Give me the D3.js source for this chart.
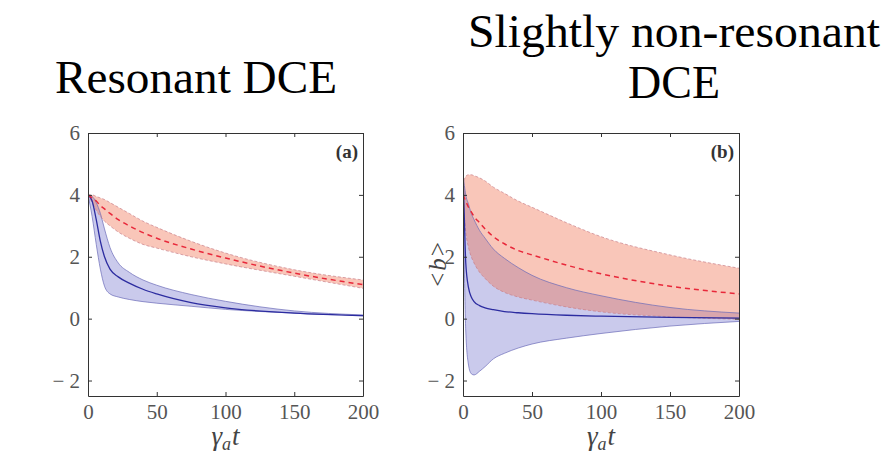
<!DOCTYPE html>
<html>
<head>
<meta charset="utf-8">
<script src="https://cdn.jsdelivr.net/npm/d3@7"></script>
<style>
  body { margin: 0; background: #fff; }
  svg { display: block; }
  svg text { font-family: "Liberation Serif", "DejaVu Serif", serif; }
</style>
</head>
<body>
<svg id="chart" width="896" height="454"></svg>
<script>
// panel (a): resonant DCE
const tA = [0, 3, 6, 9, 12, 16, 22, 30, 40, 50, 75, 100, 150, 200];
const aBlueMean = [4.0, 3.8, 3.2, 2.5, 2.0, 1.6, 1.35, 1.15, 0.95, 0.8, 0.52, 0.35, 0.18, 0.1];
const aBlueHigh = [4.0, 3.95, 3.75, 3.4, 2.9, 2.3, 1.8, 1.5, 1.25, 1.08, 0.78, 0.56, 0.25, 0.12];
const aBlueLow = [4.0, 3.3, 2.4, 1.6, 1.05, 0.8, 0.7, 0.62, 0.55, 0.5, 0.4, 0.3, 0.18, 0.09];
const aRedMean = [4.0, 3.9, 3.8, 3.65, 3.55, 3.4, 3.2, 3.0, 2.78, 2.6, 2.25, 1.96, 1.47, 1.1];
const aRedHigh = [4.0, 4.0, 3.95, 3.9, 3.85, 3.75, 3.6, 3.4, 3.15, 2.95, 2.5, 2.12, 1.58, 1.25];
const aRedLow = [4.0, 3.75, 3.5, 3.3, 3.15, 3.0, 2.8, 2.6, 2.4, 2.28, 2.0, 1.77, 1.37, 0.98];

// panel (b): slightly non-resonant DCE
const tB = [0, 1, 2, 4, 6, 8, 12, 16, 22, 30, 40, 50, 75, 100, 150, 200];
const bBlueMean = [4.7, 3.2, 1.8, 1.0, 0.7, 0.55, 0.42, 0.35, 0.29, 0.23, 0.19, 0.16, 0.11, 0.08, 0.04, 0.02];
const bBlueHigh = [4.7, 4.3, 4.0, 3.7, 3.4, 3.2, 2.85, 2.6, 2.25, 1.95, 1.65, 1.4, 1.0, 0.74, 0.36, 0.18];
const bBlueLow = [4.7, 1.6, -0.4, -1.5, -1.78, -1.82, -1.7, -1.55, -1.3, -1.12, -0.95, -0.82, -0.63, -0.48, -0.24, -0.09];
const bRedMean = [4.0, 3.9, 3.8, 3.6, 3.45, 3.3, 3.1, 2.9, 2.65, 2.42, 2.2, 2.06, 1.73, 1.45, 1.05, 0.8];
const bRedHigh = [4.3, 4.5, 4.6, 4.65, 4.65, 4.62, 4.55, 4.45, 4.25, 4.05, 3.8, 3.6, 3.1, 2.65, 2.06, 1.63];
const bRedLow = [3.9, 3.3, 2.8, 2.3, 2.0, 1.8, 1.5, 1.3, 1.05, 0.85, 0.7, 0.6, 0.38, 0.22, 0.06, -0.02];

const xTicks = [0, 50, 100, 150, 200];
const yTicks = [-2, 0, 2, 4, 6];
const xDomain = [0, 200];
const yDomain = [-2.5, 6];

const svg = d3.select("#chart");

const panels = [
  {
    id: "a", left: 88, right: 363, t: tA,
    blue: [aBlueLow, aBlueMean, aBlueHigh], red: [aRedLow, aRedMean, aRedHigh],
    ylabel: false
  },
  {
    id: "b", left: 463, right: 739, t: tB,
    blue: [bBlueLow, bBlueMean, bBlueHigh], red: [bRedLow, bRedMean, bRedHigh],
    ylabel: true
  }
];
const plotTop = 133, plotBottom = 396;

panels.forEach(p => {
  const x = d3.scaleLinear().domain(xDomain).range([p.left, p.right]);
  const y = d3.scaleLinear().domain(yDomain).range([plotBottom, plotTop]);
  const g = svg.append("g");

  g.append("clipPath").attr("id", "clip-" + p.id)
    .append("rect")
    .attr("x", p.left).attr("y", plotTop)
    .attr("width", p.right - p.left).attr("height", plotBottom - plotTop);

  const area = g.append("g").attr("clip-path", "url(#clip-" + p.id + ")");

  const band = (lo, hi) => d3.area()
    .x((d, i) => x(p.t[i]))
    .y0((d, i) => y(lo[i]))
    .y1((d, i) => y(hi[i]))
    .curve(d3.curveMonotoneX)(p.t);
  const line = vals => d3.line()
    .x((d, i) => x(p.t[i]))
    .y((d, i) => y(vals[i]))
    .curve(d3.curveMonotoneX)(p.t);

  // bands
  area.append("path").attr("d", band(p.blue[0], p.blue[2]))
    .attr("fill", "#5050c0").attr("fill-opacity", 0.3);
  area.append("path").attr("d", band(p.red[0], p.red[2]))
    .attr("fill", "#f07050").attr("fill-opacity", 0.4);

  // band edges
  [p.blue[0], p.blue[2]].forEach(v => {
    area.append("path").attr("d", line(v))
      .attr("fill", "none").attr("stroke", "#6a6ab8").attr("stroke-width", 0.7);
  });
  [p.red[0], p.red[2]].forEach(v => {
    area.append("path").attr("d", line(v))
      .attr("fill", "none").attr("stroke", "#c8808a").attr("stroke-width", 0.7)
      .attr("stroke-dasharray", "3,2");
  });

  // means
  area.append("path").attr("d", line(p.blue[1]))
    .attr("fill", "none").attr("stroke", "#2c2ca0").attr("stroke-width", 1.3);
  area.append("path").attr("d", line(p.red[1]))
    .attr("fill", "none").attr("stroke", "#e8283a").attr("stroke-width", 1.5)
    .attr("stroke-dasharray", "5,4");

  // axes, ticks pointing inward on all four sides
  const fmt = d => d < 0 ? "\u2212 " + Math.abs(d) : String(d);
  const axes = [
    [d3.axisBottom(x).tickValues(xTicks).tickFormat(d3.format("d")), "translate(0," + plotBottom + ")"],
    [d3.axisTop(x).tickValues(xTicks).tickFormat(""), "translate(0," + plotTop + ")"],
    [d3.axisLeft(y).tickValues(yTicks).tickFormat(fmt), "translate(" + p.left + ",0)"],
    [d3.axisRight(y).tickValues(yTicks).tickFormat(""), "translate(" + p.right + ",0)"]
  ];
  axes.forEach(([ax, tr]) => {
    const a = g.append("g").attr("transform", tr)
      .call(ax.tickSizeInner(-4).tickSizeOuter(0).tickPadding(8));
    a.attr("font-family", null);
    a.select(".domain").attr("stroke", "#333").attr("stroke-width", 1);
    a.selectAll(".tick line").attr("stroke", "#333");
    a.selectAll("text")
      .attr("font-size", 21).attr("fill", "#555");
  });

  // panel tag
  g.append("text")
    .attr("x", p.right - 5).attr("y", plotTop + 25)
    .attr("text-anchor", "end")
    .attr("font-weight", "bold").attr("font-size", 19)
    .attr("fill", "#333")
    .text("(" + p.id + ")");

  // x label: gamma_a t
  const xl = g.append("text")
    .attr("x", (p.left + p.right) / 2).attr("y", 445)
    .attr("text-anchor", "middle")
    .attr("font-style", "italic").attr("font-size", 27)
    .attr("fill", "#444");
  xl.append("tspan").text("\u03b3");
  xl.append("tspan").attr("font-size", 18).attr("dy", 5).text("a");
  xl.append("tspan").attr("dy", -5).attr("dx", 1).text("t");

  if (p.ylabel) {
    const yl = g.append("text")
      .attr("transform", "translate(446," + (plotTop + plotBottom) / 2 + ") rotate(-90)")
      .attr("text-anchor", "middle")
      .attr("font-size", 25)
      .attr("fill", "#444");
    yl.append("tspan").text("<");
    yl.append("tspan").attr("font-style", "italic").attr("dx", 2).text("b");
    yl.append("tspan").attr("dx", 2).text(">");
  }
});

// titles
const title = (txt, cx, by, w) => svg.append("text")
  .attr("x", cx).attr("y", by)
  .attr("text-anchor", "middle")
  .attr("font-size", 46)
  .attr("textLength", w).attr("lengthAdjust", "spacingAndGlyphs")
  .attr("fill", "#000")
  .text(txt);

title("Resonant DCE", 196, 93, 282);
title("Slightly non-resonant", 674, 47, 412);
title("DCE", 674, 98, 92);
</script>
</body>
</html>
